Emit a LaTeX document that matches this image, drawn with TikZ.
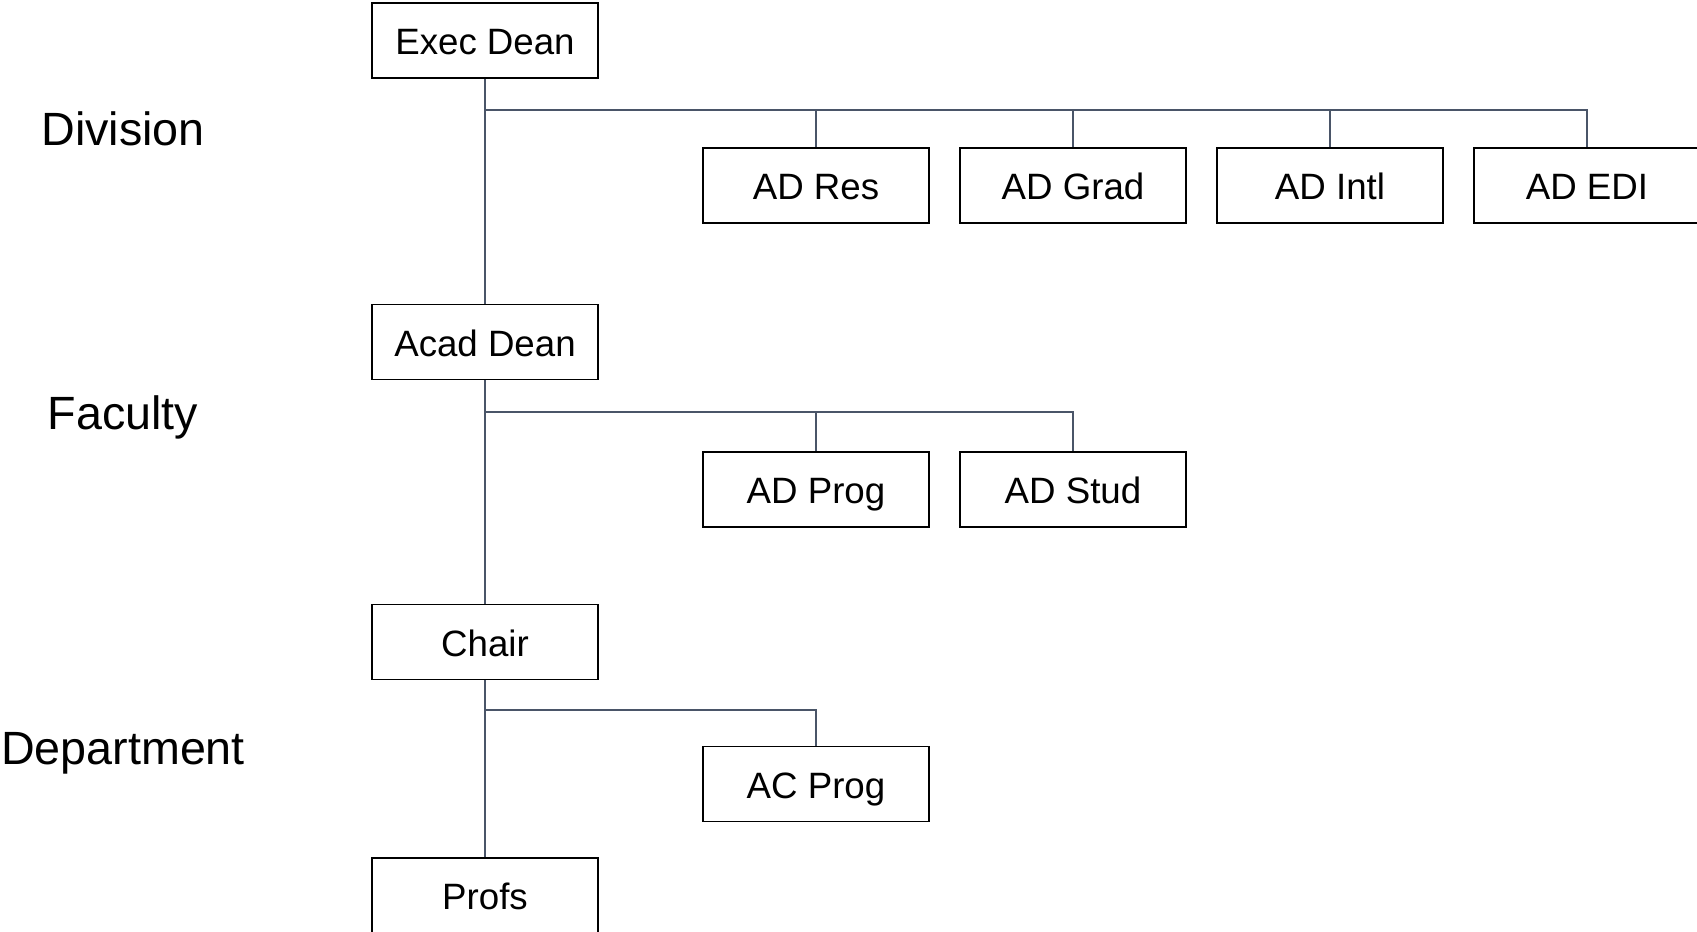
\documentclass[tikz,border=0pt]{standalone}
\usepackage{fontspec}
\setmainfont{Liberation Sans}
\definecolor{linegray}{HTML}{4A5568}
\begin{document}
\begin{tikzpicture}[
  x=0.75pt, y=-0.75pt,
  role/.style={draw=black, line width=1.2pt, fill=white, minimum width=169.5pt, minimum height=56.25pt, inner sep=0pt, text height=22pt, text depth=0.5pt, align=center, font=\fontsize{27.5}{32}\selectfont},
  level/.style={font=\fontsize{35}{42}\selectfont},
  conn/.style={draw=linegray, line width=1.1pt}
]
  \useasboundingbox (0,0) rectangle (1697,932);

  % Levels
  \node[level] (division) at (123, 129) {Division};
  \node[level] (faculty) at (123, 417) {Faculty};
  \node[level] (department) at (123, 753) {Department};

  % Roles
  \node[role] (exec) at (485, 40.5) {Exec Dean};
  \node[role] (adres) at (816, 185.5) {AD Res};
  \node[role] (adgrad) at (1073, 185.5) {AD Grad};
  \node[role] (adintl) at (1330, 185.5) {AD Intl};
  \node[role] (adedi) at (1587, 185.5) {AD EDI};
  \node[role] (acad) at (485, 342) {Acad Dean};
  \node[role] (adprog) at (816, 489.5) {AD Prog};
  \node[role] (adstud) at (1073, 489.5) {AD Stud};
  \node[role] (chair) at (485, 642) {Chair};
  \node[role] (acprog) at (816, 784) {AC Prog};
  \node[role] (profs) at (485, 895.5) {Profs};

  % Bus points
  \coordinate (divbus) at (486, 110);
  \coordinate (facbus) at (486, 412);
  \coordinate (deptbus) at (486, 710);

  % Lines
  \draw[conn] (exec) -- (acad);
  \draw[conn] (acad) -- (chair);
  \draw[conn] (chair) -- (profs);
  \draw[conn] (divbus) -| (adres.north);
  \draw[conn] (divbus) -| (adgrad.north);
  \draw[conn] (divbus) -| (adintl.north);
  \draw[conn] (divbus) -| (adedi.north);
  \draw[conn] (facbus) -| (adprog.north);
  \draw[conn] (facbus) -| (adstud.north);
  \draw[conn] (deptbus) -| (acprog.north);
\end{tikzpicture}
\end{document}
